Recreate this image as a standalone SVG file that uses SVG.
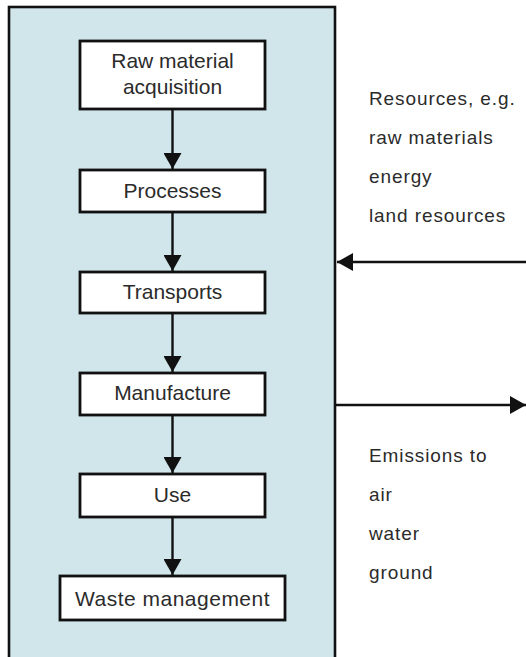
<svg xmlns="http://www.w3.org/2000/svg" width="526" height="657" viewBox="0 0 526 657">
  <style>
    .frame { fill: #d0e6ea; stroke: #111; stroke-width: 2.6; }
    .box { fill: #ffffff; stroke: #111; stroke-width: 2.8; }
    .lbl { font-family: "Liberation Sans", Arial, sans-serif; font-size: 21px; fill: #2b2b2b; text-anchor: middle; }
    .wide { letter-spacing: 0.5px; }
    .note { font-family: "Liberation Sans", Arial, sans-serif; font-size: 19px; letter-spacing: 0.9px; fill: #2b2b2b; }
    .conn { stroke: #111; stroke-width: 2.4; fill: none; }
  </style>
  <defs>
    <marker id="arrow" viewBox="0 0 16 18" refX="16" refY="9" markerWidth="16" markerHeight="18" markerUnits="userSpaceOnUse" orient="auto">
      <path d="M0,0 L16,9 L0,18 Z" fill="#111"/>
    </marker>
  </defs>

  <rect width="526" height="657" fill="#ffffff"/>

  <!-- system boundary -->
  <g id="system">
    <rect class="frame" x="9" y="7" width="326" height="660"/>
  </g>

  <!-- life-cycle stages -->
  <g id="raw-material">
    <rect class="box" x="80" y="41" width="185" height="68"/>
    <text class="lbl" x="172.5" y="68">Raw material</text>
    <text class="lbl" x="172.5" y="94">acquisition</text>
  </g>
  <g id="processes">
    <rect class="box" x="80" y="170" width="185" height="42"/>
    <text class="lbl" x="172.5" y="198">Processes</text>
  </g>
  <g id="transports">
    <rect class="box" x="80" y="272" width="185" height="41"/>
    <text class="lbl" x="172.5" y="299">Transports</text>
  </g>
  <g id="manufacture">
    <rect class="box" x="80" y="373" width="185" height="42"/>
    <text class="lbl" x="172.5" y="400">Manufacture</text>
  </g>
  <g id="use">
    <rect class="box" x="80" y="474" width="185" height="43"/>
    <text class="lbl" x="172.5" y="502">Use</text>
  </g>
  <g id="waste-management">
    <rect class="box" x="60" y="576" width="225" height="44"/>
    <text class="lbl wide" x="172.5" y="606">Waste management</text>
  </g>

  <!-- inputs and outputs -->
  <g id="resources">
    <text class="note" x="369" y="105">Resources, e.g.</text>
    <text class="note" x="369" y="144">raw materials</text>
    <text class="note" x="369" y="183">energy</text>
    <text class="note" x="369" y="222">land resources</text>
  </g>
  <g id="emissions">
    <text class="note" x="369" y="462">Emissions to</text>
    <text class="note" x="369" y="501">air</text>
    <text class="note" x="369" y="540">water</text>
    <text class="note" x="369" y="579">ground</text>
  </g>

  <!-- connectors -->
  <g id="connectors">
    <line class="conn" x1="172.5" y1="109" x2="172.5" y2="169" marker-end="url(#arrow)"/>
    <line class="conn" x1="172.5" y1="212" x2="172.5" y2="271" marker-end="url(#arrow)"/>
    <line class="conn" x1="172.5" y1="313" x2="172.5" y2="372" marker-end="url(#arrow)"/>
    <line class="conn" x1="172.5" y1="415" x2="172.5" y2="473" marker-end="url(#arrow)"/>
    <line class="conn" x1="172.5" y1="517" x2="172.5" y2="575" marker-end="url(#arrow)"/>
    <line class="conn" x1="526" y1="262" x2="337" y2="262" marker-end="url(#arrow)"/>
    <line class="conn" x1="336" y1="405" x2="526" y2="405" marker-end="url(#arrow)"/>
  </g>
</svg>
